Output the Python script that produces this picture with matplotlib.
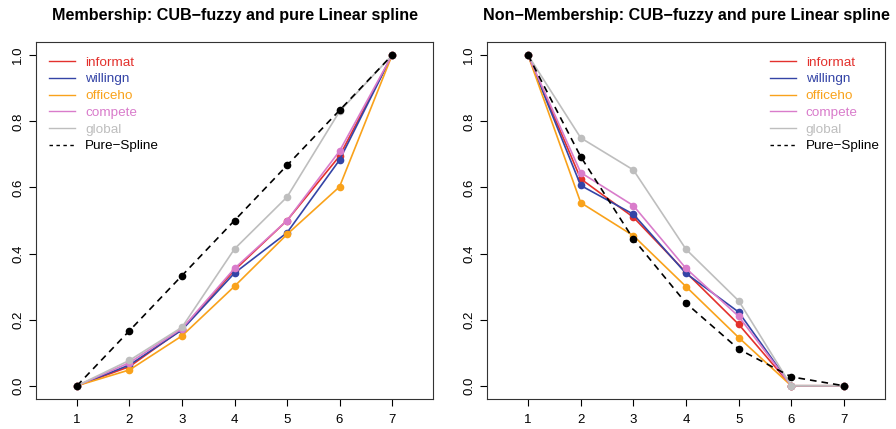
import matplotlib.pyplot as plt
from matplotlib.lines import Line2D

# Categories (rating positions 1..7)
positions = [1, 2, 3, 4, 5, 6, 7]

# Membership values per item
mem_informat = [0.0, 0.058, 0.171, 0.350, 0.500, 0.695, 1.0]
mem_willingn = [0.0, 0.063, 0.169, 0.341, 0.463, 0.683, 1.0]
mem_officeho = [0.0, 0.048, 0.151, 0.301, 0.458, 0.602, 1.0]
mem_compete = [0.0, 0.070, 0.173, 0.355, 0.500, 0.710, 1.0]
mem_global = [0.0, 0.077, 0.177, 0.414, 0.571, 0.830, 1.0]
mem_spline = [0.0, 0.1667, 0.3333, 0.5, 0.6667, 0.8333, 1.0]

# Non-membership values per item
non_informat = [1.0, 0.626, 0.510, 0.343, 0.186, 0.0, 0.0]
non_willingn = [1.0, 0.606, 0.519, 0.340, 0.223, 0.0, 0.0]
non_officeho = [1.0, 0.554, 0.454, 0.300, 0.146, 0.0, 0.0]
non_compete = [1.0, 0.645, 0.545, 0.355, 0.210, 0.0, 0.0]
non_global = [1.0, 0.750, 0.653, 0.413, 0.257, 0.0, 0.0]
non_spline = [1.0, 0.693, 0.444, 0.250, 0.111, 0.027, 0.0]

item_names = ["informat", "willingn", "officeho", "compete", "global"]
item_colors = ["#E3312D", "#3444A6", "#F9A21B", "#D97CCB", "#BEBEBE"]

plt.rcParams['font.family'] = ['Liberation Sans', 'DejaVu Sans']

fig = plt.figure(figsize=(8.96, 4.29), dpi=100)
ax1 = fig.add_axes([36 / 896, 30 / 429, 397 / 896, 357 / 429])
ax2 = fig.add_axes([487 / 896, 30 / 429, 398 / 896, 357 / 429])


def draw_panel(ax, series, spline, title, legend_loc, anchor):
    handles = []
    for vals, name, col in zip(series, item_names, item_colors):
        ax.plot(positions, vals, color=col, lw=1.2, marker="o", ms=4.5, mec=col)
        handles.append(Line2D([], [], color=col, lw=1.0, label=name))
    ax.plot(positions, spline, color="black", lw=1.2, ls=(0, (4, 3)),
            marker="o", ms=4.5)
    handles.append(Line2D([], [], color="black", lw=1.0, ls=(0, (2.5, 2.5)),
                          label="Pure\u2212Spline"))
    ax.set_xlim(0.22, 7.78)
    ax.set_ylim(-0.04, 1.04)
    ax.set_xticks(positions)
    ax.set_yticks([0.0, 0.2, 0.4, 0.6, 0.8, 1.0])
    ax.set_yticklabels(["0.0", "0.2", "0.4", "0.6", "0.8", "1.0"],
                       rotation=90, va="center")
    ax.tick_params(labelsize=9.5, length=5, width=0.8, direction="out")
    ax.tick_params(axis="x", pad=6)
    for s in ax.spines.values():
        s.set_linewidth(0.8)
        s.set_color("#333333")
    ax.set_title(title, fontsize=11.6, fontweight="bold", pad=16)
    leg = ax.legend(handles=handles, loc=legend_loc, bbox_to_anchor=anchor,
                    frameon=False, fontsize=9.7, handlelength=1.9,
                    handletextpad=0.75, labelspacing=0.32, borderaxespad=0)
    for txt, col in zip(leg.get_texts(), item_colors + ["black"]):
        txt.set_color(col)


draw_panel(ax1, [mem_informat, mem_willingn, mem_officeho, mem_compete, mem_global],
           mem_spline, "Membership: CUB\u2212fuzzy and pure Linear spline",
           "upper left", (0.02, 0.975))
draw_panel(ax2, [non_informat, non_willingn, non_officeho, non_compete, non_global],
           non_spline, "Non\u2212Membership: CUB\u2212fuzzy and pure Linear spline",
           "upper right", (1.0, 0.975))

fig.savefig("out.png", dpi=100)
